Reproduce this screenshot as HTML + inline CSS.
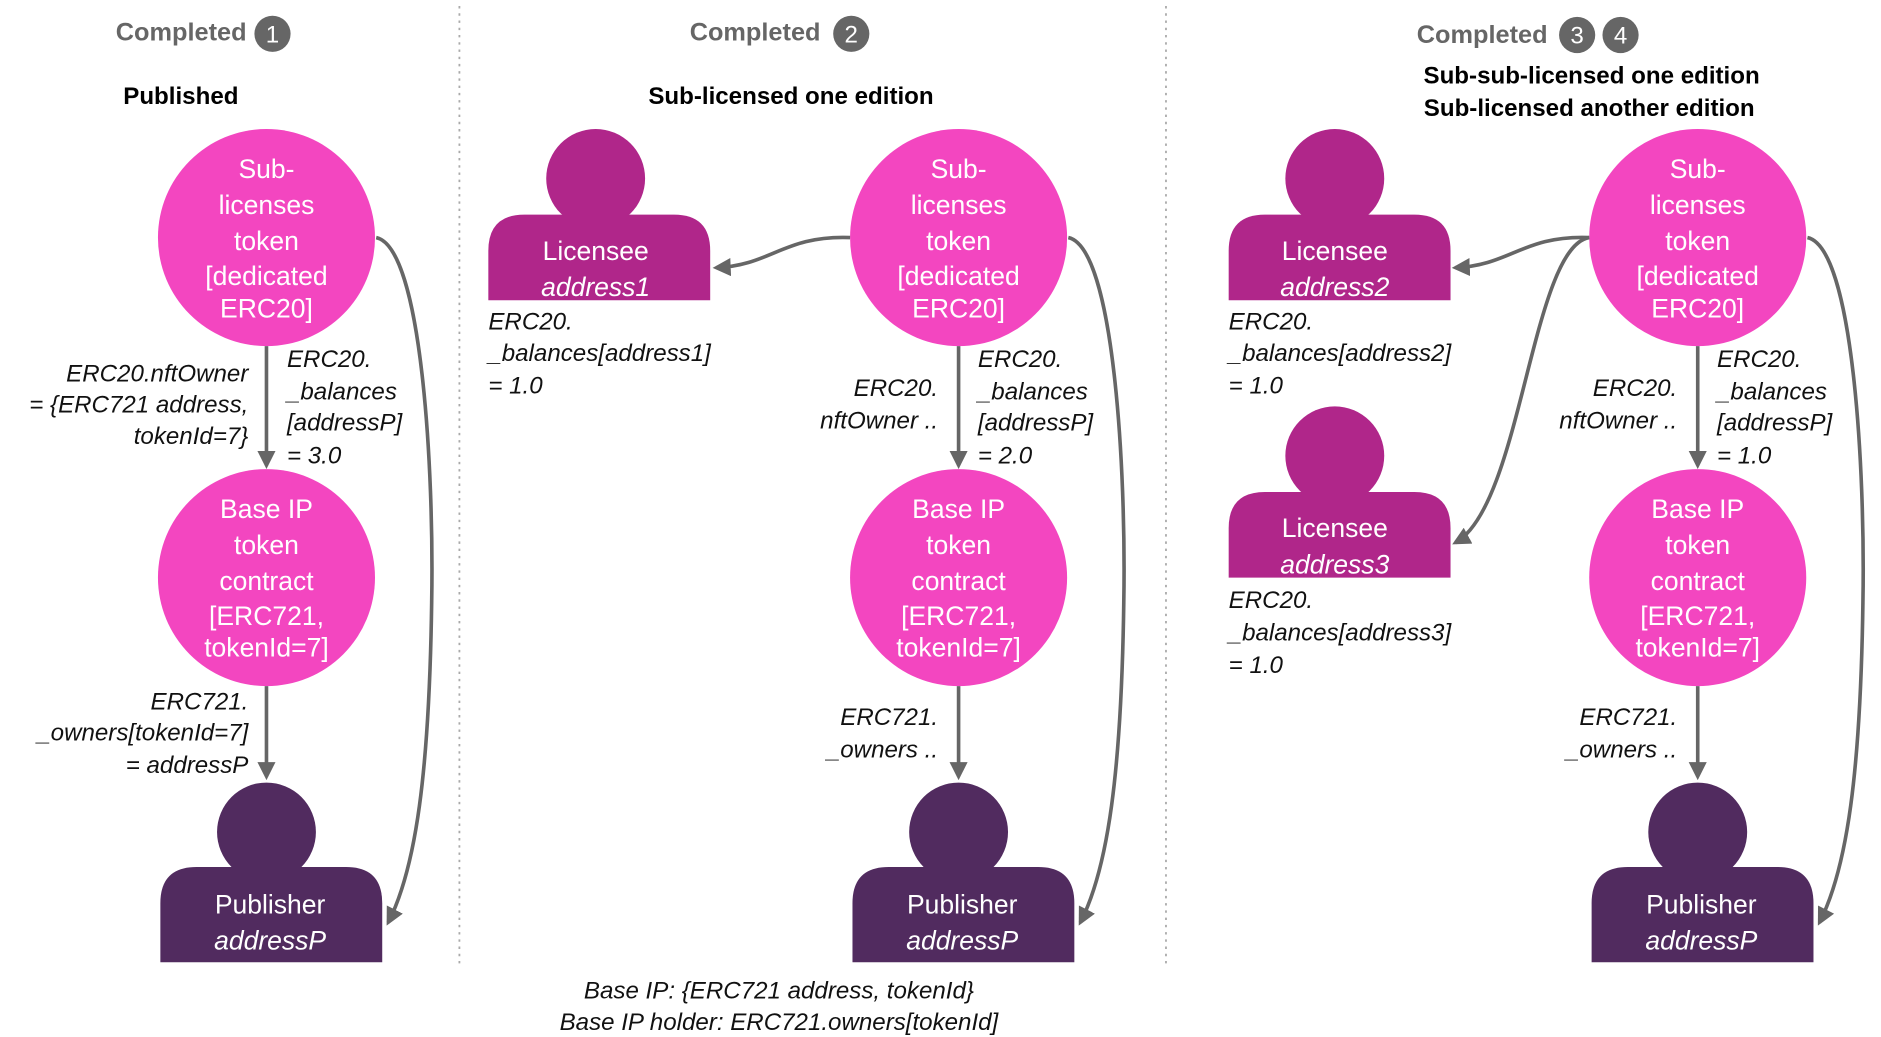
<!DOCTYPE html>
<html><head><meta charset="utf-8"><style>
html,body{margin:0;padding:0;background:#fff}
svg{display:block}
text{font-family:"Liberation Sans",sans-serif;dominant-baseline:central}
.h{font-size:21px;font-weight:bold;fill:#666}
.s{font-size:20px;font-weight:bold;fill:#000}
.b{font-size:20px;fill:#fff;text-anchor:middle}
.c{font-size:22px;fill:#fff;text-anchor:middle}
.i{font-size:20px;font-style:italic;fill:#111}
.r{text-anchor:end}
.m{text-anchor:middle}
.e{stroke:#666;stroke-width:3;fill:none}
</style></head><body>
<svg width="1881" height="1037" viewBox="0 0 1560 860" xmlns="http://www.w3.org/2000/svg">
<defs>
<marker id="a" viewBox="0 0 10 10" refX="8" refY="5" markerWidth="5" markerHeight="5" orient="auto"><path d="M0,0L10,5L0,10z" fill="#666"/></marker>
<g id="pub"><circle cx="0" cy="690" r="41" fill="#512b5f"/><path d="M-88,798V749Q-88,719 -58,719H66Q96,719 96,749V798Z" fill="#512b5f"/>
<text class="c" x="3" y="750">Publisher</text><text class="c" x="3" y="780" font-style="italic">addressP</text></g>
<g id="c1"><circle cx="0" cy="197" r="90" fill="#f346c0"/>
<text class="c" y="140">Sub-</text><text class="c" y="170">licenses</text><text class="c" y="200">token</text><text class="c" y="229">[dedicated</text><text class="c" y="256">ERC20]</text></g>
<g id="c2"><circle cx="0" cy="479" r="90" fill="#f346c0"/>
<text class="c" y="422">Base IP</text><text class="c" y="452">token</text><text class="c" y="482">contract</text><text class="c" y="511">[ERC721,</text><text class="c" y="537">tokenId=7]</text></g>
</defs>
<line x1="381" y1="5" x2="381" y2="800" stroke="#aaa" stroke-width="1.5" stroke-dasharray="2,4"/>
<line x1="967" y1="5" x2="967" y2="800" stroke="#aaa" stroke-width="1.5" stroke-dasharray="2,4"/>
<text class="h" x="96" y="27">Completed</text><circle cx="226" cy="28" r="15" fill="#666"/><text class="b" x="226" y="29">1</text>
<text class="h" x="572" y="27">Completed</text><circle cx="706" cy="28" r="15" fill="#666"/><text class="b" x="706" y="29">2</text>
<text class="h" x="1175" y="29">Completed</text><circle cx="1308" cy="29" r="15" fill="#666"/><text class="b" x="1308" y="30">3</text><circle cx="1344" cy="29" r="15" fill="#666"/><text class="b" x="1344" y="30">4</text>
<text class="s m" x="150" y="80">Published</text>
<text class="s m" x="656" y="80">Sub-licensed one edition</text>
<text class="s m" x="1320" y="63">Sub-sub-licensed one edition</text>
<text class="s m" x="1318" y="90">Sub-licensed another edition</text>

<!-- col1 -->
<use href="#c1" x="221"/><use href="#c2" x="221"/><use href="#pub" x="221"/>
<path class="e" d="M221,287V386" marker-end="url(#a)"/><path class="e" d="M221,569V644" marker-end="url(#a)"/>
<path class="e" d="M312,197C350,205 360,390 358,500C356,640 345,720 322,765" marker-end="url(#a)"/>
<text class="i r" x="206" y="310">ERC20.nftOwner</text><text class="i r" x="206" y="336">= {ERC721 address,</text><text class="i r" x="206" y="362">tokenId=7}</text>
<text class="i" x="238" y="298">ERC20.</text><text class="i" x="238" y="325">_balances</text><text class="i" x="238" y="351">[addressP]</text><text class="i" x="238" y="378">= 3.0</text>
<text class="i r" x="206" y="582">ERC721.</text><text class="i r" x="206" y="608">_owners[tokenId=7]</text><text class="i r" x="206" y="635">= addressP</text>

<!-- col2 -->
<use href="#c1" x="795"/><use href="#c2" x="795"/><use href="#pub" x="795"/>
<path class="e" d="M795,287V386" marker-end="url(#a)"/><path class="e" d="M795,569V644" marker-end="url(#a)"/>
<path class="e" d="M886,197C924,205 934,390 932,500C930,640 919,720 896,765" marker-end="url(#a)"/>
<circle cx="494" cy="148" r="41" fill="#b0268a"/><path d="M405,249V208Q405,178 435,178H559Q589,178 589,208V249Z" fill="#b0268a"/>
<text class="c" x="494" y="208">Licensee</text><text class="c" x="494" y="238" font-style="italic">address1</text>
<path class="e" d="M705,197C650,195 640,220 594,222" marker-end="url(#a)"/>
<text class="i" x="405" y="267">ERC20.</text><text class="i" x="405" y="293">_balances[address1]</text><text class="i" x="405" y="320">= 1.0</text>
<text class="i r" x="778" y="322">ERC20.</text><text class="i r" x="778" y="349">nftOwner ..</text>
<text class="i" x="811" y="298">ERC20.</text><text class="i" x="811" y="325">_balances</text><text class="i" x="811" y="351">[addressP]</text><text class="i" x="811" y="378">= 2.0</text>
<text class="i r" x="778" y="595">ERC721.</text><text class="i r" x="778" y="622">_owners ..</text>

<!-- col3 -->
<use href="#c1" x="1408"/><use href="#c2" x="1408"/><use href="#pub" x="1408"/>
<path class="e" d="M1408,287V386" marker-end="url(#a)"/><path class="e" d="M1408,569V644" marker-end="url(#a)"/>
<path class="e" d="M1499,197C1537,205 1547,390 1545,500C1543,640 1532,720 1509,765" marker-end="url(#a)"/>
<circle cx="1107" cy="148" r="41" fill="#b0268a"/><path d="M1019,249V208Q1019,178 1049,178H1173Q1203,178 1203,208V249Z" fill="#b0268a"/>
<text class="c" x="1107" y="208">Licensee</text><text class="c" x="1107" y="238" font-style="italic">address2</text>
<circle cx="1107" cy="378" r="41" fill="#b0268a"/><path d="M1019,479V438Q1019,408 1049,408H1173Q1203,408 1203,438V479Z" fill="#b0268a"/>
<text class="c" x="1107" y="438">Licensee</text><text class="c" x="1107" y="468" font-style="italic">address3</text>
<path class="e" d="M1318,197C1263,195 1253,220 1207,222" marker-end="url(#a)"/>
<path class="e" d="M1318,197C1270,205 1262,420 1207,450" marker-end="url(#a)"/>
<text class="i" x="1019" y="267">ERC20.</text><text class="i" x="1019" y="293">_balances[address2]</text><text class="i" x="1019" y="320">= 1.0</text>
<text class="i" x="1019" y="498">ERC20.</text><text class="i" x="1019" y="525">_balances[address3]</text><text class="i" x="1019" y="552">= 1.0</text>
<text class="i r" x="1391" y="322">ERC20.</text><text class="i r" x="1391" y="349">nftOwner ..</text>
<text class="i" x="1424" y="298">ERC20.</text><text class="i" x="1424" y="325">_balances</text><text class="i" x="1424" y="351">[addressP]</text><text class="i" x="1424" y="378">= 1.0</text>
<text class="i r" x="1391" y="595">ERC721.</text><text class="i r" x="1391" y="622">_owners ..</text>

<text class="i m" x="646" y="822">Base IP: {ERC721 address, tokenId}</text>
<text class="i m" x="646" y="848">Base IP holder: ERC721.owners[tokenId]</text>
</svg>
</body></html>
